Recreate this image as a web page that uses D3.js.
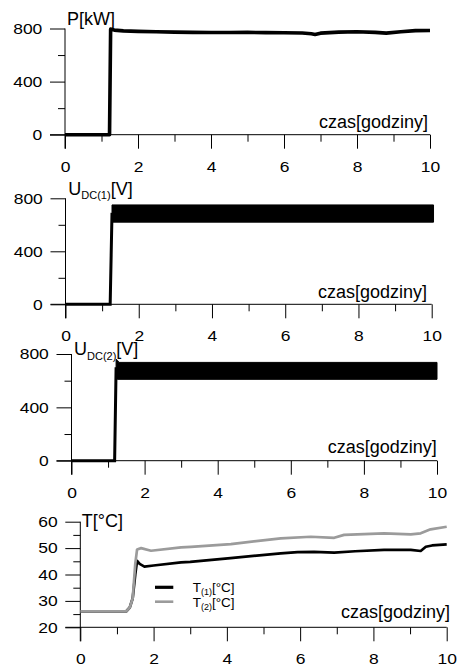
<!DOCTYPE html>
<html>
<head>
<meta charset="utf-8">
<script src="https://cdn.jsdelivr.net/npm/d3@7"></script>
<style>
	body { margin: 0; background: #fff; }
	svg { display: block; }
</style>
</head>
<body>
<div id="viz"></div>
<script>
// hours on the x axis
const hourMajor = [0, 2, 4, 6, 8, 10];
const hourMinor = [1, 3, 5, 7, 9];

// power P[kW]
const pTime = [0, 1.22, 1.25, 1.35, 1.6, 2.0, 2.5, 3.0, 3.5, 4.0, 4.5, 5.0, 5.5, 6.0, 6.5, 6.75, 6.85, 7.0, 7.5, 8.0, 8.5, 8.8, 9.2, 9.6, 10.0];
const pValue = [0, 0, 795, 788, 782, 778, 775, 773, 771, 770, 770, 771, 769, 768, 766, 760, 755, 765, 773, 775, 771, 765, 776, 784, 785];

// U_DC(1) : start-up, then envelope of the ripple band
const u1RiseTime = [0, 1.22, 1.27];
const u1RiseValue = [0, 0, 690];
const u1BandTime = [1.27, 10.05];
const u1BandHigh = [750, 750];
const u1BandLow = [620, 620];

// U_DC(2)
const u2RiseTime = [0, 1.18, 1.22];
const u2RiseValue = [0, 0, 700];
const u2BandTime = [1.22, 1.26, 1.3, 10.0];
const u2BandHigh = [760, 752, 737, 737];
const u2BandLow = [610, 610, 610, 610];

// temperatures
const t1Time = [0, 1.25, 1.35, 1.43, 1.5, 1.55, 1.62, 1.75, 2.0, 2.75, 3.0, 4.1, 5.47, 5.93, 6.38, 6.93, 7.5, 8.29, 9.02, 9.29, 9.43, 9.6, 10];
const t1Value = [26, 26, 27.5, 31, 40, 45.2, 44, 43, 43.4, 44.6, 44.8, 46.2, 48, 48.5, 48.6, 48.3, 48.8, 49.3, 49.3, 48.9, 50.5, 51, 51.4];
const t2Time = [0, 1.25, 1.35, 1.43, 1.5, 1.55, 1.66, 1.93, 2.75, 3.02, 4.11, 5.47, 6.29, 6.93, 7.2, 8.29, 9.02, 9.29, 9.56, 10];
const t2Value = [26, 26, 27.5, 31, 44, 49.5, 50, 49, 50.3, 50.5, 51.5, 53.7, 54.3, 53.9, 55, 55.6, 55.2, 55.6, 57.1, 58.1];

const uTicks = [0, 400, 800];
const uMinor = [200, 600];
const tTicks = [20, 30, 40, 50, 60];
const tMinor = [25, 35, 45, 55];

const tempNames = ['(1)', '(2)'];
const tempColors = ['#000', '#9b9b9b'];

const svg = d3.select('#viz').append('svg')
	.attr('width', 457)
	.attr('height', 669);

const labelFont = 'Liberation Sans, Arial, sans-serif';
// tick digits in the picture are drawn wide, so they get stretched a bit
const stretch = 1.18;

function panel(cfg) {
	let x = d3.scaleLinear().domain([0, 10]).range([cfg.left, cfg.right]);
	let y = d3.scaleLinear().domain(cfg.yDomain).range([cfg.bottom, cfg.top]);
	let g = svg.append('g');

	let xAxis = d3.axisBottom(x).tickValues(hourMajor).tickSize(14).tickPadding(12.3).tickFormat(d3.format('d'));
	let xMinor = d3.axisBottom(x).tickValues(hourMinor).tickSize(7).tickFormat('');
	let yAxis = d3.axisLeft(y).tickValues(cfg.yMajor).tickSize(15).tickPadding(7.7).tickFormat(d3.format('d'));
	let yMinor = d3.axisLeft(y).tickValues(cfg.yMinor).tickSize(7).tickFormat('');

	for (let ax of [xAxis, xMinor]) {
		g.append('g')
			.attr('class', 'x-axis')
			.attr('transform', `translate(0,${cfg.bottom})`)
			.call(ax)
			.call(a => a.select('.domain').remove());
	}
	for (let ax of [yAxis, yMinor]) {
		g.append('g')
			.attr('class', 'y-axis')
			.attr('transform', `translate(${cfg.left},0)`)
			.call(ax)
			.call(a => a.select('.domain').remove());
	}
	g.selectAll('.tick line').attr('stroke', '#000').attr('stroke-width', 1);
	g.selectAll('.tick text')
		.attr('fill', '#000')
		.attr('font-family', labelFont)
		.attr('font-size', 14.8)
		.attr('transform', `scale(${stretch},1)`);
	g.selectAll('.y-axis .tick text')
		.attr('x', -22.7 / stretch);

	// axis lines
	g.append('line')
		.attr('x1', cfg.left - 15).attr('x2', cfg.right)
		.attr('y1', cfg.bottom).attr('y2', cfg.bottom)
		.attr('stroke', '#000');
	g.append('line')
		.attr('x1', cfg.left).attr('x2', cfg.left)
		.attr('y1', cfg.top).attr('y2', cfg.bottom + 14)
		.attr('stroke', '#000');

	// czas label
	g.append('text')
		.attr('x', cfg.czasX)
		.attr('y', cfg.czasY)
		.attr('text-anchor', 'end')
		.attr('font-family', labelFont)
		.attr('font-size', 18)
		.text('czas[godziny]');

	// title with optional subscript
	let t = g.append('text')
		.attr('x', cfg.titleX)
		.attr('y', cfg.titleY)
		.attr('font-family', labelFont)
		.attr('font-size', 18);
	t.append('tspan').text(cfg.title[0]);
	if (cfg.title.length > 2) {
		t.append('tspan').attr('font-size', 11).attr('dy', cfg.subDy).text(cfg.title[1]);
		t.append('tspan').attr('dy', -cfg.subDy).text(cfg.title[2]);
	}

	return { g, x, y };
}

function zip(a, b) {
	return a.map((v, i) => [v, b[i]]);
}

// ---- panel 1 : P ----
{
	let { g, x, y } = panel({
		left: 65, right: 430, bottom: 134.7, top: 28.5,
		yDomain: [0, 800], yMajor: uTicks, yMinor: uMinor,
		czasX: 428, czasY: 128, titleX: 67, titleY: 25,
		title: ['P[kW]']
	});
	let line = d3.line().x(d => x(d[0])).y(d => y(d[1]));
	g.append('path')
		.datum(zip(pTime, pValue))
		.attr('fill', 'none')
		.attr('stroke', '#000')
		.attr('stroke-width', 3.6)
		.attr('stroke-linejoin', 'round')
		.attr('d', line);
}

function voltagePanel(cfg, riseT, riseV, bandT, bandHi, bandLo) {
	let { g, x, y } = panel(cfg);
	let line = d3.line().x(d => x(d[0])).y(d => y(d[1]));
	let area = d3.area()
		.x(d => x(d.t))
		.y0(d => y(d.lo))
		.y1(d => y(d.hi));
	g.append('path')
		.datum(zip(riseT, riseV))
		.attr('fill', 'none')
		.attr('stroke', '#000')
		.attr('stroke-width', 3)
		.attr('d', line);
	g.append('path')
		.datum(bandT.map((t, i) => ({ t, hi: bandHi[i], lo: bandLo[i] })))
		.attr('fill', '#000')
		.attr('stroke', '#000')
		.attr('stroke-width', 1)
		.attr('d', area);
}

// ---- panel 2 : U_DC(1) ----
voltagePanel({
	left: 65.5, right: 431.7, bottom: 304.3, top: 198.3,
	yDomain: [0, 800], yMajor: uTicks, yMinor: uMinor,
	czasX: 427, czasY: 298.3, titleX: 68.3, titleY: 195,
	title: ['U', 'DC(1)', '[V]'], subDy: 4
}, u1RiseTime, u1RiseValue, u1BandTime, u1BandHigh, u1BandLow);

// ---- panel 3 : U_DC(2) ----
voltagePanel({
	left: 71.5, right: 437, bottom: 460.7, top: 354,
	yDomain: [0, 800], yMajor: uTicks, yMinor: uMinor,
	czasX: 436.7, czasY: 453.3, titleX: 74, titleY: 355,
	title: ['U', 'DC(2)', '[V]'], subDy: 5
}, u2RiseTime, u2RiseValue, u2BandTime, u2BandHigh, u2BandLow);

// ---- panel 4 : T ----
{
	let { g, x, y } = panel({
		left: 80.3, right: 446.7, bottom: 627.3, top: 521.7,
		yDomain: [20, 60], yMajor: tTicks, yMinor: tMinor,
		czasX: 450, czasY: 618.3, titleX: 81.7, titleY: 526.7,
		title: ['T[°C]']
	});
	let line = d3.line().x(d => x(d[0])).y(d => y(d[1]));
	let series = [zip(t1Time, t1Value), zip(t2Time, t2Value)];
	series.forEach((s, i) => {
		g.append('path')
			.datum(s)
			.attr('fill', 'none')
			.attr('stroke', tempColors[i])
			.attr('stroke-width', 2.7)
			.attr('stroke-linejoin', 'round')
			.attr('d', line);
	});

	// legend
	let leg = g.append('g').attr('transform', 'translate(155,587.3)');
	tempNames.forEach((name, i) => {
		let row = leg.append('g').attr('transform', `translate(0,${i * 14.4})`);
		row.append('line')
			.attr('x1', 0).attr('x2', 18.3)
			.attr('stroke', tempColors[i])
			.attr('stroke-width', i ? 2.6 : 3.2);
		let txt = row.append('text')
			.attr('x', 37.7)
			.attr('y', 5)
			.attr('font-family', labelFont)
			.attr('font-size', 13.5);
		txt.append('tspan').text('T');
		txt.append('tspan').attr('font-size', 9).attr('dy', 3).text(name);
		txt.append('tspan').attr('dy', -3).text('[°C]');
	});
}
</script>
</body>
</html>
